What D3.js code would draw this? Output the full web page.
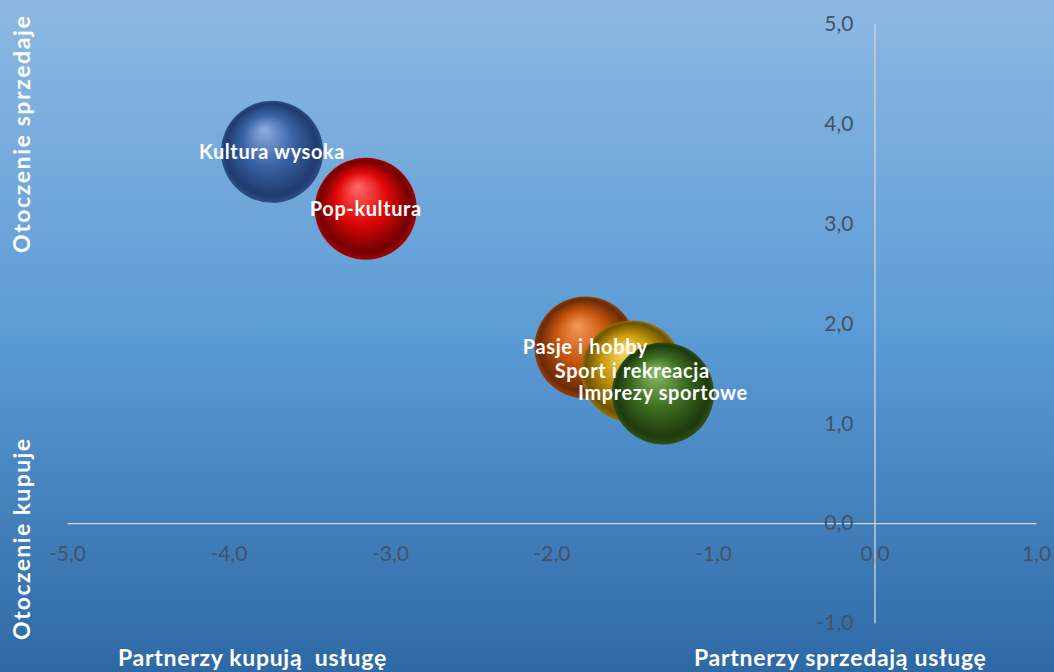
<!DOCTYPE html>
<html>
<head>
<meta charset="utf-8">
<script src="https://cdn.jsdelivr.net/npm/d3@7"></script>
<style>
  html, body { margin: 0; padding: 0; overflow: hidden; }
  svg { display: block; }
</style>
</head>
<body>
<svg id="chart"></svg>
<script>
// data
const categories = ["Kultura wysoka", "Pop-kultura", "Pasje i hobby", "Sport i rekreacja", "Imprezy sportowe"];
const xValues = [-3.73, -3.15, -1.79, -1.50, -1.31];
const yValues = [3.72, 3.15, 1.76, 1.52, 1.30];
const sizes = [1, 1, 1, 1, 1];
const xTicks = [-5, -4, -3, -2, -1, 0, 1];
const yTicks = [-1, 0, 1, 2, 3, 4, 5];
const bubbleColors = [
  ["#8fabe3", "#3a63a6", "#1f3b6e"],
  ["#ff6a6a", "#e00606", "#720000"],
  ["#f49a55", "#c8550f", "#6a2a05"],
  ["#fbd86e", "#c99a0c", "#6f5200"],
  ["#8cbf68", "#3f6e22", "#1d3a0d"]
];

const width = 1054, height = 672;
const svg = d3.select("#chart").attr("width", width).attr("height", height);

const defs = svg.append("defs");
const bg = defs.append("linearGradient").attr("id", "bg")
  .attr("x1", 0).attr("y1", 0).attr("x2", 0).attr("y2", 1);
bg.append("stop").attr("offset", "0%").attr("stop-color", "#8db8e3");
bg.append("stop").attr("offset", "50%").attr("stop-color", "#5b9bd5");
bg.append("stop").attr("offset", "100%").attr("stop-color", "#2e69a5");

bubbleColors.forEach((c, i) => {
  const g = defs.append("radialGradient").attr("id", "ball" + i)
    .attr("cx", "50%").attr("cy", "50%").attr("r", "50%")
    .attr("fx", "42%").attr("fy", "28%");
  g.append("stop").attr("offset", "0%").attr("stop-color", c[0]);
  g.append("stop").attr("offset", "50%").attr("stop-color", c[1]);
  g.append("stop").attr("offset", "90%").attr("stop-color", c[2]);
  g.append("stop").attr("offset", "100%").attr("stop-color", d3.interpolateRgb(c[2], c[1])(0.45));
});

svg.append("rect").attr("width", width).attr("height", height).attr("fill", "url(#bg)");

const xScale = d3.scaleLinear().domain([-5, 1]).range([67, 1036]);
const yScale = d3.scaleLinear().domain([-1, 5]).range([623, 24]);
const rScale = d3.scaleSqrt().domain([0, 1]).range([0, 51]);

const fmt = d => d3.format(".1f")(d).replace("−", "-").replace(".", ",");

// axes crossing at 0,0
const xAxis = svg.append("g")
  .attr("transform", `translate(0,${yScale(0)})`)
  .call(d3.axisBottom(xScale).tickValues(xTicks).tickSize(0).tickPadding(23).tickFormat(fmt));
const yAxis = svg.append("g")
  .attr("transform", `translate(${xScale(0)},0)`)
  .call(d3.axisLeft(yScale).tickValues(yTicks).tickSize(0).tickPadding(21).tickFormat(fmt));

[xAxis, yAxis].forEach(a => {
  a.select(".domain").attr("stroke", "#d0d6de").attr("stroke-width", 1.3);
  a.selectAll("text")
    .attr("fill", "#435368")
    .attr("font-family", "Lato, 'Open Sans', sans-serif")
    .attr("font-size", 21);
});

// bubbles
const balls = categories.map((c, i) => ({ name: c, x: xValues[i], y: yValues[i], s: sizes[i], i: i }));

svg.append("g").selectAll("circle")
  .data(balls)
  .enter().append("circle")
  .attr("cx", d => xScale(d.x))
  .attr("cy", d => yScale(d.y))
  .attr("r", d => rScale(d.s))
  .attr("fill", d => `url(#ball${d.i})`);

svg.append("g").selectAll("text")
  .data(balls)
  .enter().append("text")
  .attr("x", d => xScale(d.x))
  .attr("y", d => yScale(d.y))
  .attr("dy", "0.35em")
  .attr("text-anchor", "middle")
  .attr("fill", "#ffffff")
  .attr("font-family", "Lato, 'Open Sans', sans-serif")
  .attr("font-weight", "bold")
  .attr("font-size", 20)
  .attr("letter-spacing", 0.6)
  .text(d => d.name);

// quadrant captions
const captionFont = "Lato, 'Open Sans', sans-serif";
const caption = (sel) => sel.attr("fill", "#fff").attr("font-family", captionFont)
  .attr("font-weight", "bold").attr("font-size", 23).attr("letter-spacing", 0.7);
svg.append("text").attr("x", 118).attr("y", 666).call(caption)
  .attr("xml:space", "preserve")
  .text("Partnerzy kupują  usługę");
svg.append("text").attr("x", 694).attr("y", 666).call(caption)
  .text("Partnerzy sprzedają usługę");
svg.append("text").attr("transform", "translate(30,253) rotate(-90)").call(caption)
  .attr("letter-spacing", 1.6)
  .text("Otoczenie sprzedaje");
svg.append("text").attr("transform", "translate(30,640) rotate(-90)").call(caption)
  .attr("letter-spacing", 1.4)
  .text("Otoczenie kupuje");
</script>
</body>
</html>
